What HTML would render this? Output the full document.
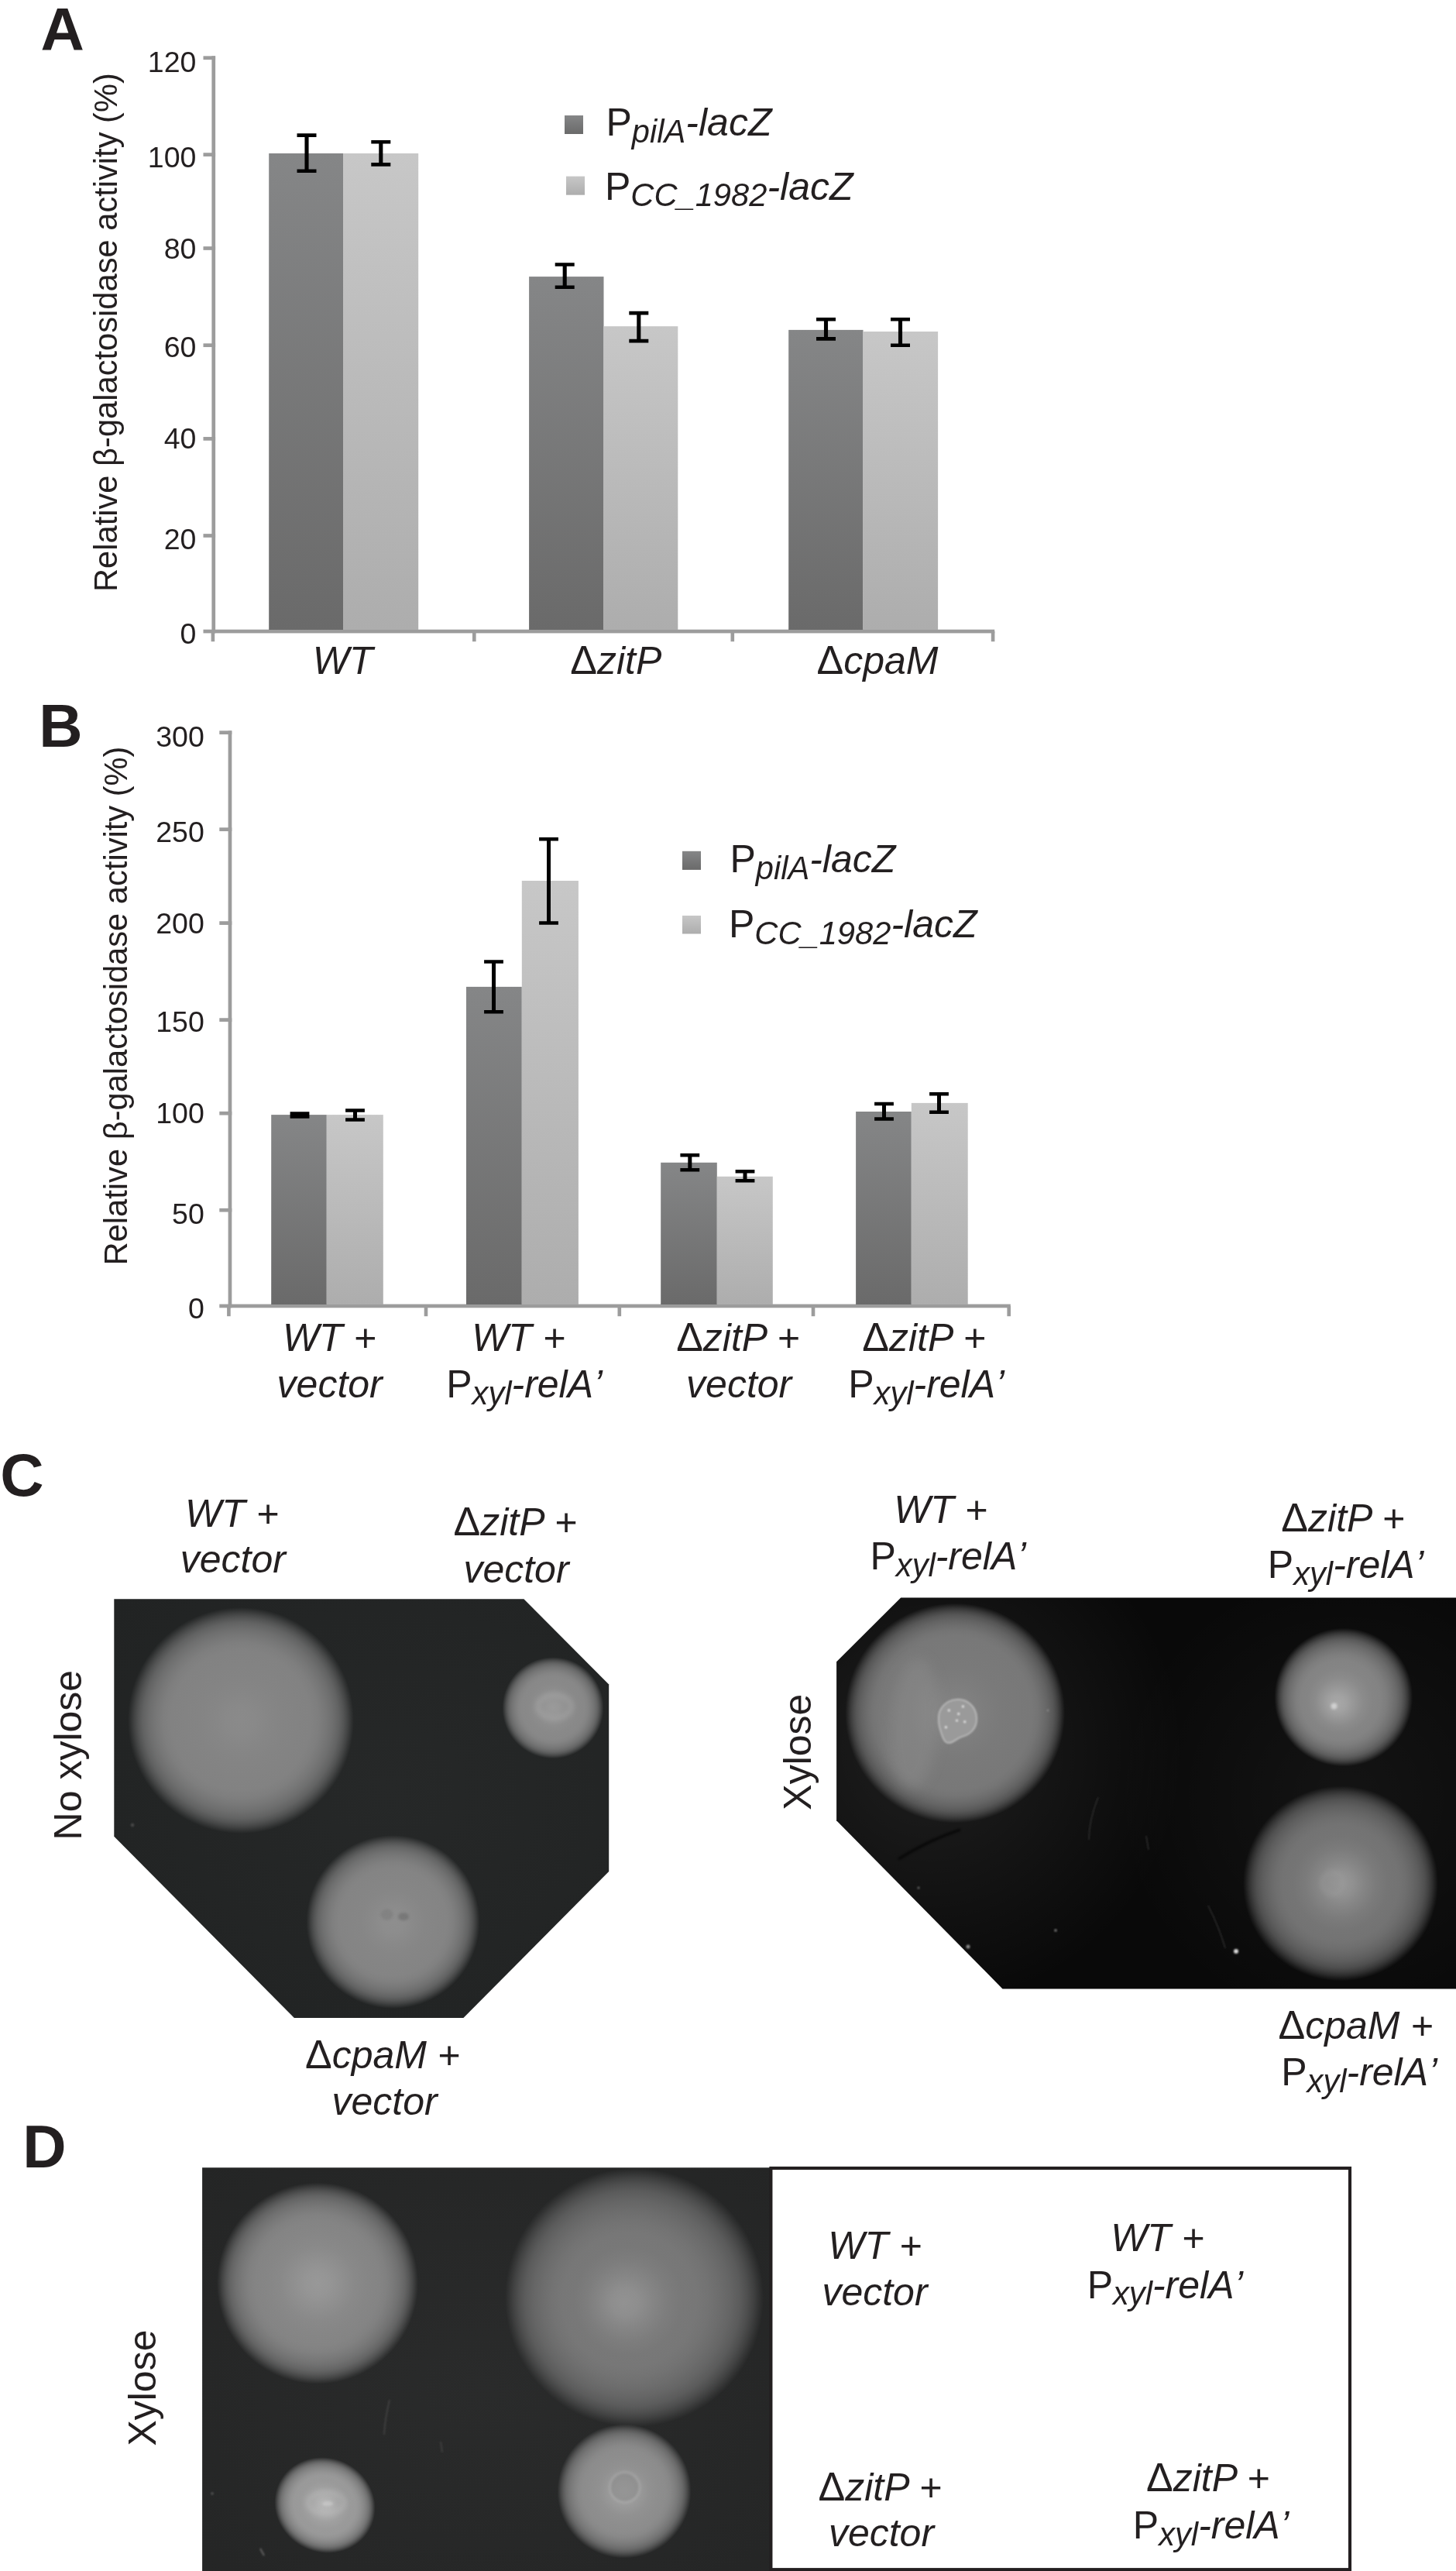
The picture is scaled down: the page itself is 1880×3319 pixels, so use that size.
<!DOCTYPE html>
<html lang="en"><head><meta charset="utf-8"><title>Figure</title>
<style>
html,body{margin:0;padding:0;background:#fff}
body{width:1880px;height:3319px;overflow:hidden}
svg{display:block;font-family:"Liberation Sans",Arial,Helvetica,sans-serif;will-change:transform}
text{fill:#231f20}
</style></head><body>
<svg width="1880" height="3319" viewBox="0 0 1880 3319">
<defs>
<linearGradient id="gd" x1="0" y1="0" x2="0" y2="1"><stop offset="0" stop-color="#858687"/><stop offset="1" stop-color="#6a6a6a"/></linearGradient>
<linearGradient id="gl" x1="0" y1="0" x2="0" y2="1"><stop offset="0" stop-color="#c7c7c7"/><stop offset="1" stop-color="#adadad"/></linearGradient>
</defs>

<!-- Panel A -->
<text x="52.60" y="64.60" font-size="78" font-weight="bold">A</text>
<rect x="273.40" y="72.30" width="4.70" height="745.10" fill="#9c9c9c"/>
<rect x="262.50" y="812.70" width="1021.70" height="4.70" fill="#9c9c9c"/>
<rect x="262.50" y="72.35" width="15.60" height="4.70" fill="#9c9c9c"/>
<rect x="262.50" y="197.25" width="15.60" height="4.70" fill="#9c9c9c"/>
<rect x="262.50" y="318.15" width="15.60" height="4.70" fill="#9c9c9c"/>
<rect x="262.50" y="443.35" width="15.60" height="4.70" fill="#9c9c9c"/>
<rect x="262.50" y="564.05" width="15.60" height="4.70" fill="#9c9c9c"/>
<rect x="262.50" y="689.15" width="15.60" height="4.70" fill="#9c9c9c"/>
<rect x="272.60" y="815.00" width="4.60" height="13.20" fill="#9c9c9c"/>
<rect x="610.00" y="815.00" width="4.60" height="13.20" fill="#9c9c9c"/>
<rect x="943.50" y="815.00" width="4.60" height="13.20" fill="#9c9c9c"/>
<rect x="1279.80" y="815.00" width="4.60" height="13.20" fill="#9c9c9c"/>
<text x="253.40" y="92.90" font-size="37.5" text-anchor="end">120</text>
<text x="253.40" y="216.00" font-size="37.5" text-anchor="end">100</text>
<text x="253.40" y="334.00" font-size="37.5" text-anchor="end">80</text>
<text x="253.40" y="461.30" font-size="37.5" text-anchor="end">60</text>
<text x="253.40" y="579.10" font-size="37.5" text-anchor="end">40</text>
<text x="253.40" y="709.20" font-size="37.5" text-anchor="end">20</text>
<text x="253.40" y="830.80" font-size="37.5" text-anchor="end">0</text>
<text transform="translate(151 764) rotate(-90)" font-size="41.67">Relative β-galactosidase activity (%)</text>
<rect x="347.20" y="198.00" width="95.80" height="615.00" fill="url(#gd)"/>
<rect x="443.00" y="198.00" width="97.20" height="615.00" fill="url(#gl)"/>
<rect x="683.10" y="357.10" width="96.40" height="455.90" fill="url(#gd)"/>
<rect x="779.50" y="421.20" width="95.80" height="391.80" fill="url(#gl)"/>
<rect x="1018.20" y="425.90" width="96.30" height="387.10" fill="url(#gd)"/>
<rect x="1114.50" y="428.00" width="96.60" height="385.00" fill="url(#gl)"/>
<path d="M383.50 174.60H408.50M383.50 220.70H408.50" stroke="#000" stroke-width="4.6" fill="none"/><path d="M396.00 174.60V220.70" stroke="#000" stroke-width="5.1" fill="none"/>
<path d="M479.30 183.20H504.30M479.30 212.40H504.30" stroke="#000" stroke-width="4.6" fill="none"/><path d="M491.80 183.20V212.40" stroke="#000" stroke-width="5.1" fill="none"/>
<path d="M716.70 341.50H741.70M716.70 370.70H741.70" stroke="#000" stroke-width="4.6" fill="none"/><path d="M729.20 341.50V370.70" stroke="#000" stroke-width="5.1" fill="none"/>
<path d="M812.30 404.10H837.30M812.30 440.10H837.30" stroke="#000" stroke-width="4.6" fill="none"/><path d="M824.80 404.10V440.10" stroke="#000" stroke-width="5.1" fill="none"/>
<path d="M1054.00 412.20H1079.00M1054.00 437.40H1079.00" stroke="#000" stroke-width="4.6" fill="none"/><path d="M1066.50 412.20V437.40" stroke="#000" stroke-width="5.1" fill="none"/>
<path d="M1150.00 412.20H1175.00M1150.00 445.70H1175.00" stroke="#000" stroke-width="4.6" fill="none"/><path d="M1162.50 412.20V445.70" stroke="#000" stroke-width="5.1" fill="none"/>
<rect x="729.00" y="149.00" width="24.00" height="24.00" fill="url(#gd)"/>
<rect x="731.00" y="227.60" width="24.00" height="24.10" fill="url(#gl)"/>
<text x="782.50" y="175.10" font-size="50">P<tspan font-size="41.67" font-style="italic" dy="8.8">pilA</tspan><tspan font-style="italic" dy="-8.8">-lacZ</tspan></text>
<text x="781.00" y="257.60" font-size="50">P<tspan font-size="41.67" font-style="italic" dy="8.8">CC_1982</tspan><tspan font-style="italic" dy="-8.8">-lacZ</tspan></text>
<text x="442.70" y="870.00" font-size="50" font-style="italic" text-anchor="middle">WT</text>
<text x="795.20" y="870.00" font-size="50" font-style="italic" text-anchor="middle"><tspan font-style="normal" font-size="52">Δ</tspan>zitP</text>
<text x="1133.00" y="870.00" font-size="50" font-style="italic" text-anchor="middle"><tspan font-style="normal" font-size="52">Δ</tspan>cpaM</text>
<!-- Panel B -->
<text x="50.20" y="964.00" font-size="78" font-weight="bold">B</text>
<rect x="294.60" y="943.40" width="4.70" height="744.90" fill="#9c9c9c"/>
<rect x="283.30" y="1683.60" width="1021.50" height="4.70" fill="#9c9c9c"/>
<rect x="283.30" y="943.35" width="16.00" height="4.70" fill="#9c9c9c"/>
<rect x="283.30" y="1068.35" width="16.00" height="4.70" fill="#9c9c9c"/>
<rect x="283.30" y="1189.25" width="16.00" height="4.70" fill="#9c9c9c"/>
<rect x="283.30" y="1314.25" width="16.00" height="4.70" fill="#9c9c9c"/>
<rect x="283.30" y="1434.85" width="16.00" height="4.70" fill="#9c9c9c"/>
<rect x="283.30" y="1559.85" width="16.00" height="4.70" fill="#9c9c9c"/>
<rect x="293.10" y="1686.00" width="4.60" height="13.20" fill="#9c9c9c"/>
<rect x="547.70" y="1686.00" width="4.60" height="13.20" fill="#9c9c9c"/>
<rect x="797.50" y="1686.00" width="4.60" height="13.20" fill="#9c9c9c"/>
<rect x="1047.70" y="1686.00" width="4.60" height="13.20" fill="#9c9c9c"/>
<rect x="1300.40" y="1686.00" width="4.60" height="13.20" fill="#9c9c9c"/>
<text x="263.80" y="964.00" font-size="37.5" text-anchor="end">300</text>
<text x="263.80" y="1086.50" font-size="37.5" text-anchor="end">250</text>
<text x="263.80" y="1204.60" font-size="37.5" text-anchor="end">200</text>
<text x="263.80" y="1332.20" font-size="37.5" text-anchor="end">150</text>
<text x="263.80" y="1450.40" font-size="37.5" text-anchor="end">100</text>
<text x="263.80" y="1579.80" font-size="37.5" text-anchor="end">50</text>
<text x="263.80" y="1702.20" font-size="37.5" text-anchor="end">0</text>
<text transform="translate(164 1633.4) rotate(-90)" font-size="41.67">Relative β-galactosidase activity (%)</text>
<rect x="350.20" y="1439.10" width="71.60" height="244.90" fill="url(#gd)"/>
<rect x="421.80" y="1439.10" width="73.00" height="244.90" fill="url(#gl)"/>
<rect x="602.00" y="1273.90" width="71.80" height="410.10" fill="url(#gd)"/>
<rect x="673.80" y="1137.00" width="73.10" height="547.00" fill="url(#gl)"/>
<rect x="853.20" y="1500.80" width="72.60" height="183.20" fill="url(#gd)"/>
<rect x="925.80" y="1518.80" width="72.00" height="165.20" fill="url(#gl)"/>
<rect x="1105.10" y="1435.00" width="71.70" height="249.00" fill="url(#gd)"/>
<rect x="1176.80" y="1423.90" width="72.90" height="260.10" fill="url(#gl)"/>
<path d="M374.60 1437.45H399.40M374.60 1441.45H399.40" stroke="#000" stroke-width="4.5" fill="none"/><path d="M387.00 1437.45V1441.45" stroke="#000" stroke-width="5" fill="none"/>
<path d="M446.10 1433.45H470.90M446.10 1445.55H470.90" stroke="#000" stroke-width="4.5" fill="none"/><path d="M458.50 1433.45V1445.55" stroke="#000" stroke-width="5" fill="none"/>
<path d="M625.10 1241.55H649.90M625.10 1306.35H649.90" stroke="#000" stroke-width="4.5" fill="none"/><path d="M637.50 1241.55V1306.35" stroke="#000" stroke-width="5" fill="none"/>
<path d="M696.10 1083.25H720.90M696.10 1191.45H720.90" stroke="#000" stroke-width="4.5" fill="none"/><path d="M708.50 1083.25V1191.45" stroke="#000" stroke-width="5" fill="none"/>
<path d="M878.40 1491.35H903.20M878.40 1510.35H903.20" stroke="#000" stroke-width="4.5" fill="none"/><path d="M890.80 1491.35V1510.35" stroke="#000" stroke-width="5" fill="none"/>
<path d="M949.60 1512.35H974.40M949.60 1524.25H974.40" stroke="#000" stroke-width="4.5" fill="none"/><path d="M962.00 1512.35V1524.25" stroke="#000" stroke-width="5" fill="none"/>
<path d="M1129.10 1424.95H1153.90M1129.10 1444.55H1153.90" stroke="#000" stroke-width="4.5" fill="none"/><path d="M1141.50 1424.95V1444.55" stroke="#000" stroke-width="5" fill="none"/>
<path d="M1200.10 1412.25H1224.90M1200.10 1435.85H1224.90" stroke="#000" stroke-width="4.5" fill="none"/><path d="M1212.50 1412.25V1435.85" stroke="#000" stroke-width="5" fill="none"/>
<rect x="881.00" y="1098.80" width="24.00" height="24.10" fill="url(#gd)"/>
<rect x="881.00" y="1182.00" width="24.00" height="23.50" fill="url(#gl)"/>
<text x="942.40" y="1126.30" font-size="50">P<tspan font-size="41.67" font-style="italic" dy="8.8">pilA</tspan><tspan font-style="italic" dy="-8.8">-lacZ</tspan></text>
<text x="941.00" y="1209.80" font-size="50">P<tspan font-size="41.67" font-style="italic" dy="8.8">CC_1982</tspan><tspan font-style="italic" dy="-8.8">-lacZ</tspan></text>
<text x="425.30" y="1744.20" font-size="50" font-style="italic" text-anchor="middle">WT +</text>
<text x="425.70" y="1804.40" font-size="50" font-style="italic" text-anchor="middle">vector</text>
<text x="669.60" y="1744.20" font-size="50" font-style="italic" text-anchor="middle">WT +</text>
<text x="677.00" y="1804.20" font-size="50" text-anchor="middle">P<tspan font-size="41.67" font-style="italic" dy="8.8">xyl</tspan><tspan font-style="italic" dy="-8.8">-relA<tspan dx="2.4">’</tspan></tspan></text>
<text x="952.80" y="1744.20" font-size="50" font-style="italic" text-anchor="middle"><tspan font-style="normal" font-size="52">Δ</tspan>zitP +</text>
<text x="954.20" y="1804.20" font-size="50" font-style="italic" text-anchor="middle">vector</text>
<text x="1193.00" y="1744.20" font-size="50" font-style="italic" text-anchor="middle"><tspan font-style="normal" font-size="52">Δ</tspan>zitP +</text>
<text x="1196.00" y="1804.20" font-size="50" text-anchor="middle">P<tspan font-size="41.67" font-style="italic" dy="8.8">xyl</tspan><tspan font-style="italic" dy="-8.8">-relA<tspan dx="2.4">’</tspan></tspan></text>
<!-- Panel C -->
<defs>
<radialGradient id="bl1"><stop offset="0.000" stop-color="#8a8a8a"/><stop offset="0.124" stop-color="#898989"/><stop offset="0.248" stop-color="#868686"/><stop offset="0.372" stop-color="#848484"/><stop offset="0.496" stop-color="#838383"/><stop offset="0.620" stop-color="#828282"/><stop offset="0.688" stop-color="#828282" stop-opacity="0.96"/><stop offset="0.753" stop-color="#828282" stop-opacity="0.88"/><stop offset="0.810" stop-color="#828282" stop-opacity="0.79"/><stop offset="0.867" stop-color="#828282" stop-opacity="0.66"/><stop offset="0.909" stop-color="#828282" stop-opacity="0.5"/><stop offset="0.943" stop-color="#828282" stop-opacity="0.33"/><stop offset="0.970" stop-color="#828282" stop-opacity="0.17"/><stop offset="0.989" stop-color="#828282" stop-opacity="0.06"/><stop offset="1.000" stop-color="#828282" stop-opacity="0"/></radialGradient>
<radialGradient id="bl2"><stop offset="0.000" stop-color="#9a9a9a"/><stop offset="0.124" stop-color="#979797"/><stop offset="0.248" stop-color="#929292"/><stop offset="0.372" stop-color="#8c8c8c"/><stop offset="0.496" stop-color="#898989"/><stop offset="0.620" stop-color="#888888"/><stop offset="0.688" stop-color="#888888" stop-opacity="0.96"/><stop offset="0.753" stop-color="#888888" stop-opacity="0.88"/><stop offset="0.810" stop-color="#888888" stop-opacity="0.79"/><stop offset="0.867" stop-color="#888888" stop-opacity="0.66"/><stop offset="0.909" stop-color="#888888" stop-opacity="0.5"/><stop offset="0.943" stop-color="#888888" stop-opacity="0.33"/><stop offset="0.970" stop-color="#888888" stop-opacity="0.17"/><stop offset="0.989" stop-color="#888888" stop-opacity="0.06"/><stop offset="1.000" stop-color="#888888" stop-opacity="0"/></radialGradient>
<radialGradient id="bl3"><stop offset="0.000" stop-color="#8e8e8e"/><stop offset="0.124" stop-color="#8d8d8d"/><stop offset="0.248" stop-color="#898989"/><stop offset="0.372" stop-color="#868686"/><stop offset="0.496" stop-color="#858585"/><stop offset="0.620" stop-color="#848484"/><stop offset="0.688" stop-color="#848484" stop-opacity="0.96"/><stop offset="0.753" stop-color="#848484" stop-opacity="0.88"/><stop offset="0.810" stop-color="#848484" stop-opacity="0.79"/><stop offset="0.867" stop-color="#848484" stop-opacity="0.66"/><stop offset="0.909" stop-color="#848484" stop-opacity="0.5"/><stop offset="0.943" stop-color="#848484" stop-opacity="0.33"/><stop offset="0.970" stop-color="#848484" stop-opacity="0.17"/><stop offset="0.989" stop-color="#848484" stop-opacity="0.06"/><stop offset="1.000" stop-color="#848484" stop-opacity="0"/></radialGradient>
<radialGradient id="bl4"><stop offset="0.000" stop-color="#828282"/><stop offset="0.140" stop-color="#818181"/><stop offset="0.280" stop-color="#7d7d7d"/><stop offset="0.420" stop-color="#7a7a7a"/><stop offset="0.560" stop-color="#797979"/><stop offset="0.700" stop-color="#787878"/><stop offset="0.754" stop-color="#787878" stop-opacity="0.96"/><stop offset="0.805" stop-color="#787878" stop-opacity="0.88"/><stop offset="0.850" stop-color="#787878" stop-opacity="0.79"/><stop offset="0.895" stop-color="#787878" stop-opacity="0.66"/><stop offset="0.928" stop-color="#787878" stop-opacity="0.5"/><stop offset="0.955" stop-color="#787878" stop-opacity="0.33"/><stop offset="0.976" stop-color="#787878" stop-opacity="0.17"/><stop offset="0.991" stop-color="#787878" stop-opacity="0.06"/><stop offset="1.000" stop-color="#787878" stop-opacity="0"/></radialGradient>
<radialGradient id="bl5" fx="0.45" fy="0.55"><stop offset="0.000" stop-color="#a8a8a8"/><stop offset="0.116" stop-color="#a2a2a2"/><stop offset="0.232" stop-color="#969696"/><stop offset="0.348" stop-color="#8b8b8b"/><stop offset="0.464" stop-color="#858585"/><stop offset="0.580" stop-color="#838383"/><stop offset="0.656" stop-color="#828282" stop-opacity="0.96"/><stop offset="0.727" stop-color="#828282" stop-opacity="0.88"/><stop offset="0.790" stop-color="#828282" stop-opacity="0.79"/><stop offset="0.853" stop-color="#828282" stop-opacity="0.66"/><stop offset="0.899" stop-color="#828282" stop-opacity="0.5"/><stop offset="0.937" stop-color="#828282" stop-opacity="0.33"/><stop offset="0.966" stop-color="#828282" stop-opacity="0.17"/><stop offset="0.987" stop-color="#828282" stop-opacity="0.06"/><stop offset="1.000" stop-color="#828282" stop-opacity="0"/></radialGradient>
<radialGradient id="bl6"><stop offset="0.000" stop-color="#969696"/><stop offset="0.120" stop-color="#919191"/><stop offset="0.240" stop-color="#858585"/><stop offset="0.360" stop-color="#7b7b7b"/><stop offset="0.480" stop-color="#757575"/><stop offset="0.600" stop-color="#737373"/><stop offset="0.672" stop-color="#727272" stop-opacity="0.96"/><stop offset="0.740" stop-color="#727272" stop-opacity="0.88"/><stop offset="0.800" stop-color="#727272" stop-opacity="0.79"/><stop offset="0.860" stop-color="#727272" stop-opacity="0.66"/><stop offset="0.904" stop-color="#727272" stop-opacity="0.5"/><stop offset="0.940" stop-color="#727272" stop-opacity="0.33"/><stop offset="0.968" stop-color="#727272" stop-opacity="0.17"/><stop offset="0.988" stop-color="#727272" stop-opacity="0.06"/><stop offset="1.000" stop-color="#727272" stop-opacity="0"/></radialGradient>
<radialGradient id="bl7"><stop offset="0.000" stop-color="#989898"/><stop offset="0.124" stop-color="#959595"/><stop offset="0.248" stop-color="#8f8f8f"/><stop offset="0.372" stop-color="#898989"/><stop offset="0.496" stop-color="#868686"/><stop offset="0.620" stop-color="#848484"/><stop offset="0.688" stop-color="#848484" stop-opacity="0.96"/><stop offset="0.753" stop-color="#848484" stop-opacity="0.88"/><stop offset="0.810" stop-color="#848484" stop-opacity="0.79"/><stop offset="0.867" stop-color="#848484" stop-opacity="0.66"/><stop offset="0.909" stop-color="#848484" stop-opacity="0.5"/><stop offset="0.943" stop-color="#848484" stop-opacity="0.33"/><stop offset="0.970" stop-color="#848484" stop-opacity="0.17"/><stop offset="0.989" stop-color="#848484" stop-opacity="0.06"/><stop offset="1.000" stop-color="#848484" stop-opacity="0"/></radialGradient>
<radialGradient id="bl8" fx="0.46" fy="0.52"><stop offset="0.000" stop-color="#929292"/><stop offset="0.104" stop-color="#8e8e8e"/><stop offset="0.208" stop-color="#858585"/><stop offset="0.312" stop-color="#7d7d7d"/><stop offset="0.416" stop-color="#787878"/><stop offset="0.520" stop-color="#777777"/><stop offset="0.606" stop-color="#767676" stop-opacity="0.96"/><stop offset="0.688" stop-color="#767676" stop-opacity="0.88"/><stop offset="0.760" stop-color="#767676" stop-opacity="0.79"/><stop offset="0.832" stop-color="#767676" stop-opacity="0.66"/><stop offset="0.885" stop-color="#767676" stop-opacity="0.5"/><stop offset="0.928" stop-color="#767676" stop-opacity="0.33"/><stop offset="0.962" stop-color="#767676" stop-opacity="0.17"/><stop offset="0.986" stop-color="#767676" stop-opacity="0.06"/><stop offset="1.000" stop-color="#767676" stop-opacity="0"/></radialGradient>
<radialGradient id="bl9"><stop offset="0.000" stop-color="#b6b6b6"/><stop offset="0.124" stop-color="#b2b2b2"/><stop offset="0.248" stop-color="#a8a8a8"/><stop offset="0.372" stop-color="#9f9f9f"/><stop offset="0.496" stop-color="#9a9a9a"/><stop offset="0.620" stop-color="#999999"/><stop offset="0.688" stop-color="#989898" stop-opacity="0.96"/><stop offset="0.753" stop-color="#989898" stop-opacity="0.88"/><stop offset="0.810" stop-color="#989898" stop-opacity="0.79"/><stop offset="0.867" stop-color="#989898" stop-opacity="0.66"/><stop offset="0.909" stop-color="#989898" stop-opacity="0.5"/><stop offset="0.943" stop-color="#989898" stop-opacity="0.33"/><stop offset="0.970" stop-color="#989898" stop-opacity="0.17"/><stop offset="0.989" stop-color="#989898" stop-opacity="0.06"/><stop offset="1.000" stop-color="#989898" stop-opacity="0"/></radialGradient>
<radialGradient id="bl10"><stop offset="0.000" stop-color="#a2a2a2"/><stop offset="0.124" stop-color="#9f9f9f"/><stop offset="0.248" stop-color="#989898"/><stop offset="0.372" stop-color="#919191"/><stop offset="0.496" stop-color="#8e8e8e"/><stop offset="0.620" stop-color="#8c8c8c"/><stop offset="0.688" stop-color="#8c8c8c" stop-opacity="0.96"/><stop offset="0.753" stop-color="#8c8c8c" stop-opacity="0.88"/><stop offset="0.810" stop-color="#8c8c8c" stop-opacity="0.79"/><stop offset="0.867" stop-color="#8c8c8c" stop-opacity="0.66"/><stop offset="0.909" stop-color="#8c8c8c" stop-opacity="0.5"/><stop offset="0.943" stop-color="#8c8c8c" stop-opacity="0.33"/><stop offset="0.970" stop-color="#8c8c8c" stop-opacity="0.17"/><stop offset="0.989" stop-color="#8c8c8c" stop-opacity="0.06"/><stop offset="1.000" stop-color="#8c8c8c" stop-opacity="0"/></radialGradient>
<radialGradient id="vL" cx="0.55" cy="0.45" r="0.7"><stop offset="0" stop-color="#262828"/><stop offset="1" stop-color="#212323"/></radialGradient>
<radialGradient id="vD" cx="0.5" cy="0.55" r="0.75"><stop offset="0" stop-color="#2a2b2b"/><stop offset="1" stop-color="#242525"/></radialGradient>
<radialGradient id="glowR"><stop offset="0" stop-color="#fff" stop-opacity="0.09"/><stop offset="1" stop-color="#fff" stop-opacity="0"/></radialGradient>
<filter id="b9" x="-150%" y="-40%" width="400%" height="180%"><feGaussianBlur stdDeviation="9"/></filter>
<filter id="b2" x="-30%" y="-30%" width="160%" height="160%"><feGaussianBlur stdDeviation="1.6"/></filter>
<filter id="b3" x="-30%" y="-30%" width="160%" height="160%"><feGaussianBlur stdDeviation="3"/></filter>
<filter id="b1" x="-30%" y="-30%" width="160%" height="160%"><feGaussianBlur stdDeviation="0.8"/></filter>
<clipPath id="cpL"><path d="M147.3 2064.3H676.4L786.2 2174.5V2416L598.4 2605H379.9L147.3 2370.7Z"/></clipPath>
<clipPath id="cpR"><path d="M1163.2 2062.5H1880V2567.4H1294.5L1080.1 2350.3V2145.3Z"/></clipPath>
<clipPath id="cpW"><circle cx="1233.2" cy="2211.5" r="128"/></clipPath>
<clipPath id="cpD"><rect x="261.1" y="2798.2" width="735" height="522"/></clipPath>
</defs>
<text x="0.20" y="1931.00" font-size="78" font-weight="bold">C</text>
<g clip-path="url(#cpL)"><rect x="140" y="2060" width="660" height="550" fill="url(#vL)"/>
<circle cx="311" cy="2221" r="146" fill="url(#bl1)"/>
<circle cx="714" cy="2204.7" r="65.5" fill="url(#bl2)"/>
<circle cx="507.5" cy="2481" r="112" fill="url(#bl3)"/>
<ellipse cx="716" cy="2203" rx="22" ry="15" fill="none" stroke="#b0b0b0" stroke-width="6" opacity="0.4" filter="url(#b3)"/>
<ellipse cx="499.6" cy="2471.6" rx="8" ry="7" fill="#7a7a7a" opacity="0.55" filter="url(#b2)"/><ellipse cx="521" cy="2474.3" rx="7" ry="5" fill="#707070" opacity="0.7" filter="url(#b2)"/>
<circle cx="171" cy="2356" r="2.2" fill="#4a4a4a" filter="url(#b1)"/>
</g>
<g clip-path="url(#cpR)"><rect x="1070" y="2055" width="820" height="520" fill="#090909"/>
<circle cx="1200" cy="2260" r="330" fill="url(#glowR)"/>
<circle cx="1740" cy="2320" r="300" fill="url(#glowR)" opacity="0.5"/>
<circle cx="1233.2" cy="2211.5" r="142" fill="url(#bl4)"/>
<circle cx="1734.8" cy="2191" r="89.5" fill="url(#bl5)"/>
<circle cx="1731" cy="2431.5" r="126" fill="url(#bl6)"/>
<g clip-path="url(#cpW)"><ellipse cx="1180" cy="2226" rx="32" ry="86" fill="#b4b4b4" opacity="0.17" filter="url(#b9)" transform="rotate(4 1180 2228)"/></g>
<path d="M1212 2220c-1-14 9-25 23-26s25 9 26 23-8 22-19 25c-7 2-11 8-17 8s-8-8-10-14-3-10-3-16z" fill="#9a9a9a" stroke="#b4b4b4" stroke-width="2.2" filter="url(#b1)"/>
<circle cx="1225.3" cy="2208" r="1.7" fill="#dedede" filter="url(#b1)"/>
<circle cx="1237.7" cy="2212.5" r="1.7" fill="#dedede" filter="url(#b1)"/>
<circle cx="1235.5" cy="2221.1" r="1.7" fill="#dedede" filter="url(#b1)"/>
<circle cx="1245.7" cy="2222.7" r="1.7" fill="#dedede" filter="url(#b1)"/>
<circle cx="1221.4" cy="2229.7" r="1.7" fill="#dedede" filter="url(#b1)"/>
<circle cx="1243.4" cy="2203" r="1.7" fill="#dedede" filter="url(#b1)"/>
<circle cx="1722.5" cy="2202.5" r="4" fill="#d0d0d0" filter="url(#b2)"/>
<circle cx="1721" cy="2431" r="14" fill="none" stroke="#a8a8a8" stroke-width="4" opacity="0.3" filter="url(#b3)"/>
<circle cx="1596" cy="2519" r="3" fill="#d8d8d8" filter="url(#b1)"/>
<circle cx="1250" cy="2513" r="2.5" fill="#8a8a8a" filter="url(#b1)"/>
<circle cx="1363" cy="2492" r="1.8" fill="#7a7a7a" filter="url(#b1)"/>
<circle cx="1186" cy="2437" r="1.5" fill="#6a6a6a" filter="url(#b1)"/>
<circle cx="1353" cy="2208" r="1.3" fill="#8a8a8a" filter="url(#b1)"/>
<path d="M1160 2400q40-25 80-38" fill="none" stroke="#000" stroke-width="3" opacity="0.7" filter="url(#b2)"/>
<path d="M1418 2320q-12 30-12 55M1480 2370l3 18M1560 2460q15 30 22 55" fill="none" stroke="#2c2c2c" stroke-width="1.6" filter="url(#b1)"/>
</g>
<text x="299.50" y="1970.70" font-size="50" font-style="italic" text-anchor="middle">WT +</text>
<text x="300.80" y="2030.10" font-size="50" font-style="italic" text-anchor="middle">vector</text>
<text x="665.20" y="1982.20" font-size="50" font-style="italic" text-anchor="middle"><tspan font-style="normal" font-size="52">Δ</tspan>zitP +</text>
<text x="666.50" y="2042.80" font-size="50" font-style="italic" text-anchor="middle">vector</text>
<text x="1214.60" y="1965.60" font-size="50" font-style="italic" text-anchor="middle">WT +</text>
<text x="1224.20" y="2025.90" font-size="50" text-anchor="middle">P<tspan font-size="41.67" font-style="italic" dy="8.8">xyl</tspan><tspan font-style="italic" dy="-8.8">-relA<tspan dx="2.4">’</tspan></tspan></text>
<text x="1734.00" y="1977.00" font-size="50" font-style="italic" text-anchor="middle"><tspan font-style="normal" font-size="52">Δ</tspan>zitP +</text>
<text x="1737.60" y="2037.10" font-size="50" text-anchor="middle">P<tspan font-size="41.67" font-style="italic" dy="8.8">xyl</tspan><tspan font-style="italic" dy="-8.8">-relA<tspan dx="2.4">’</tspan></tspan></text>
<text x="494.00" y="2669.70" font-size="50" font-style="italic" text-anchor="middle"><tspan font-style="normal" font-size="52">Δ</tspan>cpaM +</text>
<text x="496.60" y="2729.60" font-size="50" font-style="italic" text-anchor="middle">vector</text>
<text x="1750.50" y="2632.20" font-size="50" font-style="italic" text-anchor="middle"><tspan font-style="normal" font-size="52">Δ</tspan>cpaM +</text>
<text x="1755.00" y="2692.40" font-size="50" text-anchor="middle">P<tspan font-size="41.67" font-style="italic" dy="8.8">xyl</tspan><tspan font-style="italic" dy="-8.8">-relA<tspan dx="2.4">’</tspan></tspan></text>
<text transform="translate(105 2375.4) rotate(-90)" font-size="50">No xylose</text>
<text transform="translate(1046.8 2336.7) rotate(-90)" font-size="50">Xylose</text>
<!-- Panel D -->
<text x="29.20" y="2798.00" font-size="78" font-weight="bold">D</text>
<g clip-path="url(#cpD)"><rect x="255" y="2790" width="745" height="535" fill="url(#vD)"/>
<circle cx="410" cy="2947.6" r="130" fill="url(#bl7)"/>
<circle cx="819" cy="2966" r="167" fill="url(#bl8)"/>
<ellipse cx="419.5" cy="3234" rx="66" ry="61" fill="url(#bl9)" transform="rotate(25 419.5 3234)"/>
<circle cx="806" cy="3216" r="86.5" fill="url(#bl10)"/>
<ellipse cx="421" cy="3231" rx="24" ry="14" fill="none" stroke="#d0d0d0" stroke-width="5" opacity="0.28" filter="url(#b3)"/>
<ellipse cx="423" cy="3232" rx="7" ry="3" fill="#d8d8d8" opacity="0.45" filter="url(#b2)"/>
<circle cx="806.7" cy="3211" r="19.5" fill="#808080" stroke="#bababa" stroke-width="2.6" opacity="0.36" filter="url(#b2)"/>
<path d="M503 3098q-6 25-7 45M569 3152l2 14" fill="none" stroke="#444" stroke-width="1.6" filter="url(#b1)"/>
<circle cx="274" cy="3219" r="1.8" fill="#555" filter="url(#b1)"/><path d="M336 3290l5 9" stroke="#5a5a5a" stroke-width="2.5" filter="url(#b1)"/>
</g>
<rect x="995.4" y="2798.95" width="747.6" height="518.2" fill="#fff" stroke="#231f20" stroke-width="4.1"/>
<text x="1129.70" y="2916.00" font-size="50" font-style="italic" text-anchor="middle">WT +</text>
<text x="1129.50" y="2975.80" font-size="50" font-style="italic" text-anchor="middle">vector</text>
<text x="1494.60" y="2906.40" font-size="50" font-style="italic" text-anchor="middle">WT +</text>
<text x="1504.40" y="2966.50" font-size="50" text-anchor="middle">P<tspan font-size="41.67" font-style="italic" dy="8.8">xyl</tspan><tspan font-style="italic" dy="-8.8">-relA<tspan dx="2.4">’</tspan></tspan></text>
<text x="1136.20" y="3228.20" font-size="50" font-style="italic" text-anchor="middle"><tspan font-style="normal" font-size="52">Δ</tspan>zitP +</text>
<text x="1138.00" y="3287.40" font-size="50" font-style="italic" text-anchor="middle">vector</text>
<text x="1559.60" y="3216.00" font-size="50" font-style="italic" text-anchor="middle"><tspan font-style="normal" font-size="52">Δ</tspan>zitP +</text>
<text x="1563.60" y="3277.30" font-size="50" text-anchor="middle">P<tspan font-size="41.67" font-style="italic" dy="8.8">xyl</tspan><tspan font-style="italic" dy="-8.8">-relA<tspan dx="2.4">’</tspan></tspan></text>
<text transform="translate(200.8 3157.6) rotate(-90)" font-size="50">Xylose</text>
</svg></body></html>
